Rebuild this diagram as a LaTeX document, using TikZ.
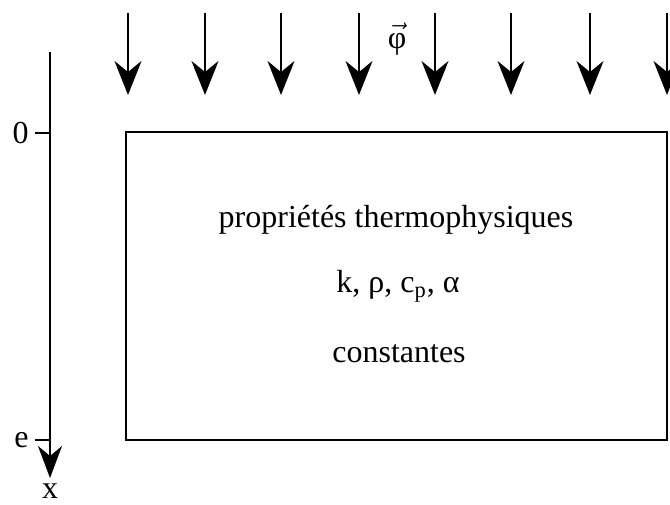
\documentclass[tikz,border=0pt]{standalone}
\usepackage{fontspec}
\setmainfont{Liberation Serif}
\usetikzlibrary{arrows.meta}

\begin{document}
\begin{tikzpicture}[
  x=0.5pt, y=-0.5pt,
  lbl/.style={font=\fontsize{16}{19}\selectfont, inner sep=0pt},
  flux/.style={line width=1pt, -{Stealth[length=17pt, width=13.5pt, inset=5.5pt]}},
  axe/.style={line width=1pt, -{Stealth[length=16pt, width=12pt, inset=5pt]}},
  paroi/.style={draw, line width=0.9pt, minimum width=270.5pt, minimum height=154pt, inner sep=0pt},
]
  \useasboundingbox (0,0) rectangle (670,504);
  % flux incident
  \foreach \i/\x in {1/128,2/205,3/281,4/359,5/435,6/511,7/590,8/667}{
    \coordinate (f\i h) at (\x,13);
    \coordinate (f\i b) at (\x,95);
    \draw[flux] (f\i h) -- (f\i b);
  }
  \node[lbl, anchor=base] (phi) at (397,48) {$\vec{\mbox{φ}}$};
  % milieu
  \node[paroi] (milieu) at (396.5,286) {};
  \node[lbl, anchor=base] (prop) at (396,227) {propriétés thermophysiques};
  \node[lbl, anchor=base] (coef) at (398,292) {k, ρ, c\textsubscript{p}, α};
  \node[lbl, anchor=base] (cst) at (399,362) {constantes};
  % axe x
  \coordinate (axeh) at (50,52);
  \coordinate (axeb) at (50,478);
  \draw[axe] (axeh) -- (axeb);
  \coordinate (t0) at (35,133);
  \coordinate (t0a) at (50,133);
  \coordinate (te) at (35,440);
  \coordinate (tea) at (50,440);
  \draw[line width=1pt] (t0) -- (t0a);
  \draw[line width=1pt] (te) -- (tea);
  \node[lbl, anchor=east] (zero) at ([xshift=-3pt]t0) {0};
  \node[lbl, anchor=east] (epais) at ([xshift=-3pt]te) {e};
  \node[lbl, anchor=base] (xlab) at (50,498) {x};
\end{tikzpicture}
\end{document}
